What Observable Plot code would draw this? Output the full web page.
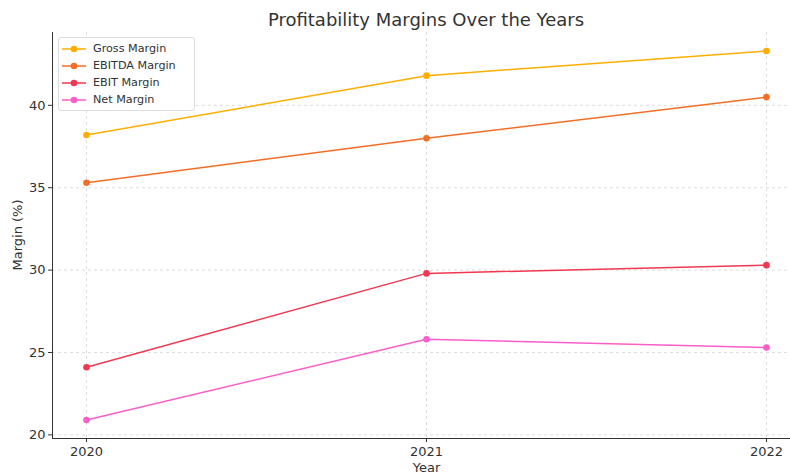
<!DOCTYPE html>
<html>
<head>
<meta charset="utf-8">
<script src="https://cdn.jsdelivr.net/npm/d3@7"></script>
<script src="https://cdn.jsdelivr.net/npm/@observablehq/plot@0.6"></script>
<style>
  html, body { margin: 0; padding: 0; background: #fff; overflow: hidden; }
  body { width: 790px; height: 474px; font-family: "DejaVu Sans", sans-serif; }
  #wrap { position: relative; width: 790px; height: 474px; }
  #title { height: 32px; line-height: 40px; text-align: center; font-size: 18px; color: #333; padding-left: 62px; box-sizing: border-box; }
  #legend { position: absolute; left: 58px; top: 37px; width: 135px; border: 1px solid #ddd; border-radius: 3px; background: rgba(255,255,255,0.85); padding: 2px 0; font-size: 11.2px; color: #333; }
  .item { display: flex; align-items: center; height: 17px; }
  .item svg { margin-left: 3px; margin-right: 7px; }
</style>
</head>
<body>
<div id="wrap">
  <div id="title">Profitability Margins Over the Years</div>
  <div id="chart"></div>
  <div id="legend"></div>
</div>
<script>
const years = [2020, 2021, 2022];
const seriesNames = ["Gross Margin", "EBITDA Margin", "EBIT Margin", "Net Margin"];
const grossMargin = [38.2, 41.8, 43.3];
const ebitdaMargin = [35.3, 38.0, 40.5];
const ebitMargin = [24.1, 29.8, 30.3];
const netMargin = [20.9, 25.8, 25.3];
const colors = ["#ffae00", "#f36d26", "#f23850", "#fb5ec9"];
const yTicks = [20, 25, 30, 35, 40];

const allSeries = [grossMargin, ebitdaMargin, ebitMargin, netMargin];
const data = [];
seriesNames.forEach((name, i) => {
  years.forEach((yr, j) => data.push({series: name, year: yr, value: allSeries[i][j]}));
});

const yDomain = [19.78, 44.42];
const xDomain = [2019.9, 2022.1];

const chart = Plot.plot({
  width: 790,
  height: 442,
  marginTop: 0,
  marginBottom: 36,
  marginLeft: 52,
  marginRight: 0,
  style: {fontFamily: "DejaVu Sans, sans-serif", fontSize: "13px", color: "#333", overflow: "visible"},
  x: {domain: xDomain, range: [52, 800], ticks: years, tickFormat: d => String(d), label: null},
  y: {domain: yDomain, ticks: yTicks, label: null},
  color: {domain: seriesNames, range: colors},
  marks: [
    Plot.gridY(yTicks, {stroke: "#d0d0d0", strokeOpacity: 1, strokeDasharray: "3,3", strokeWidth: 0.7}),
    Plot.gridX(years, {stroke: "#d0d0d0", strokeOpacity: 1, strokeDasharray: "3,3", strokeWidth: 0.7}),
    Plot.axisY(yTicks, {tickSize: 4, tickPadding: 3, fontSize: 13, stroke: "#333"}),
    Plot.axisX(years, {tickSize: 4, tickPadding: 4, fontSize: 13, tickFormat: d => String(d), stroke: "#333"}),
    Plot.ruleX([xDomain[0]], {stroke: "#333", strokeWidth: 1}),
    Plot.ruleY([yDomain[0]], {stroke: "#333", strokeWidth: 1}),
    Plot.line(data, {x: "year", y: "value", z: "series", stroke: "series", strokeWidth: 1.5}),
    Plot.dot(data, {x: "year", y: "value", fill: "series", r: 3.3}),
    Plot.text(["Year"], {frameAnchor: "bottom", dy: 33, x: () => 2021, y: () => yDomain[0], text: d => d, fontSize: 13, fill: "#333"}),
  ]
});
document.getElementById("chart").appendChild(chart);

// y-axis label
const svg = d3.select(chart);
svg.append("text")
  .attr("transform", "translate(22," + (chart.getAttribute("height") - 36) / 2 + ") rotate(-90)")
  .attr("text-anchor", "middle")
  .style("font-size", "13px")
  .style("font-family", "DejaVu Sans, sans-serif")
  .attr("fill", "#333")
  .text("Margin (%)");

// legend
const legend = document.getElementById("legend");
seriesNames.forEach((name, i) => {
  const item = document.createElement("div");
  item.className = "item";
  item.innerHTML = `<svg width="24" height="10"><line x1="0" y1="5" x2="24" y2="5" stroke="${colors[i]}" stroke-width="1.5"/><circle cx="12" cy="5" r="3.3" fill="${colors[i]}"/></svg><span>${name}</span>`;
  legend.appendChild(item);
});
</script>
</body>
</html>
